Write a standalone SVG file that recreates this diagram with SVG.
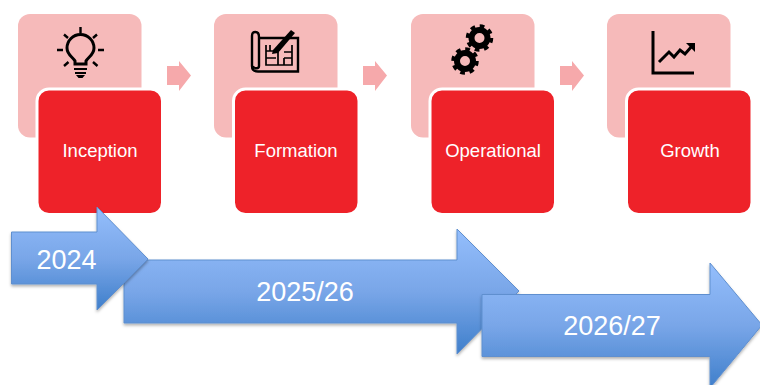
<svg xmlns="http://www.w3.org/2000/svg" width="760" height="385" viewBox="0 0 760 385">
<defs>
<linearGradient id="blue" x1="0" y1="0" x2="0" y2="1"><stop offset="0" stop-color="#94befc"/><stop offset="0.5" stop-color="#79a6e8"/><stop offset="1" stop-color="#3f7fcb"/></linearGradient>
<filter id="sh" x="-5%" y="-5%" width="110%" height="115%"><feDropShadow dx="0" dy="2" stdDeviation="1.500" flood-color="#000" flood-opacity="0.3"/></filter>
</defs>
<style>
.pink{fill:#f6baba}
.red{fill:#ee2229;stroke:#fff;stroke-width:3}
.step{fill:#f6a9ab}
.lbl{font-family:"Liberation Sans",Arial,sans-serif;font-size:18.500px;fill:#fff;text-anchor:middle}
.yr{font-family:"Liberation Sans",Arial,sans-serif;font-size:27px;fill:#fff;text-anchor:middle}
.arr{fill:url(#blue);stroke:#5f8fcf;stroke-width:1;filter:url(#sh)}
.ic{fill:none;stroke:#000;stroke-width:2.400}
.icf{fill:#000}
.teeth{fill:none;stroke:#000;stroke-width:3.500;stroke-dasharray:4.700 4.700}
.ring{fill:none;stroke:#000;stroke-width:6}
</style>
<g id="connectors">
<path class="step" d="M167 66H179V61L191 75.500L179 91V85H167Z"/>
<path class="step" d="M363 66H375V61L387 75.500L375 91V85H363Z"/>
<path class="step" d="M560 66H572V61L584 75.500L572 91V85H560Z"/>
</g>
<g id="node-inception">
<rect class="pink" x="18" y="14" width="123.500" height="123.500" rx="12"/>
<g class="ic">
<path d="M75 64V61C73 57 67 55 67 48A13.500 13.500 0 0 1 94 48C94 55 88 57 86 61V64Z" stroke-width="3"/>
<path d="M80.500 27V33M64 34.500L68 38M97 34.500L93 38M57 50H63M98 50H104M64 66L68.500 62M97.500 66L93 62"/>
<path d="M74 69H87M75 73H86" stroke-width="2"/>
</g>
<path class="icf" d="M76 75H85L82.500 78H78.500Z"/>
<rect class="red" x="37" y="89" width="125.500" height="125.500" rx="12"/>
<text class="lbl" x="100" y="157">Inception</text>
</g>
<g id="node-formation">
<rect class="pink" x="214" y="14" width="123.500" height="123.500" rx="12"/>
<g class="ic">
<path d="M259 38H298V71.500H258C253 71.500 252 69 252 66V36C252 32 254 32 255.500 32C258 32 259 34 259 37V66C259 69 255 69 252 66"/>
<path d="M266 45V65H292V45M266 51H274M270 45V51M266 58H276M278 52V65M266 65M284 52H292M284 58H292M284 58V65" stroke-width="1.700"/>
</g>
<path class="icf" d="M273 50L291 30L295 33L278 53L272 54Z"/>
<rect class="red" x="233.500" y="89" width="125.500" height="125.500" rx="12"/>
<text class="lbl" x="296" y="157">Formation</text>
</g>
<g id="node-operational">
<rect class="pink" x="411" y="14" width="123.500" height="123.500" rx="12"/>
<g>
<circle class="ring" cx="479.500" cy="38" r="8"/>
<circle class="teeth" cx="479.500" cy="38" r="12"/>
<circle class="ring" cx="465" cy="61" r="8"/>
<circle class="teeth" cx="465" cy="61" r="12"/>
</g>
<rect class="red" x="430" y="89" width="125.500" height="125.500" rx="12"/>
<text class="lbl" x="493" y="157">Operational</text>
</g>
<g id="node-growth">
<rect class="pink" x="607" y="14" width="123.500" height="123.500" rx="12"/>
<path d="M653 31V73H694" fill="none" stroke="#000" stroke-width="3"/>
<path d="M659 62L669 52L674 57L680 50L685 54L692 46" fill="none" stroke="#000" stroke-width="3"/>
<path class="icf" d="M686 43H695V52Z"/>
<rect class="red" x="626.500" y="89" width="125.500" height="125.500" rx="12"/>
<text class="lbl" x="690" y="157">Growth</text>
</g>
<g id="node-2025-26">
<path class="arr" d="M124 260H457V229L519 291L457 354V323H124Z"/>
<text class="yr" x="305" y="301">2025/26</text>
</g>
<g id="node-2024">
<path class="arr" d="M11.500 232H97V207L148 259L97 310V284H11.500Z"/>
<text class="yr" x="66.500" y="269">2024</text>
</g>
<g id="node-2026-27">
<path class="arr" d="M482 294.500H710V263L762 325L710 388V356.500H482Z"/>
<text class="yr" x="612" y="335">2026/27</text>
</g>
</svg>
